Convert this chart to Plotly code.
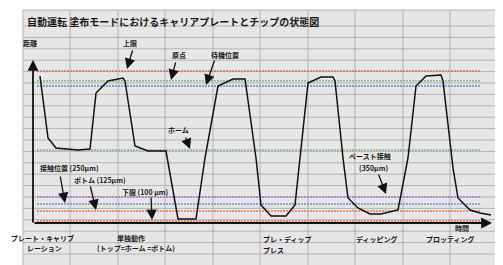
import plotly.graph_objects as go

# ---- data (time, distance in chart units; x-axis at distance 0) ----
curve_t = [7, 15, 23, 45, 57, 63, 75, 90, 92, 102, 115, 133, 145, 163, 172, 185, 200, 212,
           223, 228, 238, 253, 262, 267, 275, 288, 300, 302, 310, 315, 325, 337, 348, 365,
           375, 383, 393, 408, 410, 420, 425, 437, 447, 458]
curve_d = [147, 85, 75, 73, 74, 130, 142, 145, 142, 77, 72, 72, 4, 4, 65, 137, 144, 144,
           65, 18, 7, 7, 18, 65, 140, 146, 146, 142, 65, 25, 15, 9, 9, 13,
           65, 137, 147, 148, 142, 55, 25, 13, 10, 8]

level_names = ["上限", "原点", "待機位置", "ホーム", "ペースト接触", "接触位置", "ボトム", "下限"]
level_values = [152, 142, 137, 73, 26, 19, 12, 2]
level_colors = ["#e0704c", "#86b486", "#7080c8", "#86b486", "#a878b8", "#7888c8", "#e0805c", "#e0704c"]
level_start, level_end = 4, 447

title_text = "自動運転 塗布モードにおけるキャリアプレートとチップの状態図"
phase_labels = ["プレート・キャリブ", "レーション", "単独動作", "(トップ=ホーム =ボトム)",
                "プレ・ディップ", "プレス", "ディッピング", "プロッティング"]

FONT = "Noto Sans CJK JP"
fig = go.Figure()

for name, v, c in zip(level_names, level_values, level_colors):
    fig.add_trace(go.Scatter(x=[level_start, level_end], y=[v, v], mode="lines",
                             line=dict(color=c, width=1.6, dash="2px,1px"),
                             name=name, showlegend=False, hoverinfo="skip"))

fig.add_trace(go.Scatter(x=curve_t, y=curve_d, mode="lines",
                         line=dict(color="#111111", width=1.5), showlegend=False))

ann = []
def txt(s, x, y, size=7, anchor="center"):
    ann.append(dict(text=s, x=x, y=y, xref="x", yref="y", showarrow=False,
                    xanchor=anchor, yanchor="middle",
                    font=dict(family=FONT, size=size, color="#1a1a1a")))

def arrow(x0, y0, x1, y1, w=1.3, size=1.6):
    ann.append(dict(text="", x=x1, y=y1, ax=x0, ay=y0, xref="x", yref="y",
                    axref="x", ayref="y", showarrow=True, arrowhead=2,
                    arrowsize=size, arrowwidth=w, arrowcolor="#111111"))

# axes with arrows
arrow(0, -1, 0, 163, w=1.8, size=1.2)
arrow(0, 0, 459, 0, w=1.8, size=1.2)

txt("<b>" + title_text + "</b>", -8, 202, size=10, anchor="left")
txt("<b>距離</b>", -3, 180)
txt("<b>上限</b>", 97, 180)
txt("<b>原点</b>", 146, 168)
txt("<b>待機位置</b>", 192, 168)
txt("<b>ホーム</b>", 145, 93)
txt("<b>接触位置 (250μm)</b>", 36, 55)
txt("<b>ボトム (125μm)</b>", 67, 43)
txt("<b>下限 (100 μm)</b>", 112, 31)
txt("<b>ペースト接触</b>", 337, 67)
txt("<b>(350μm)</b>", 340, 55)
txt("<b>時間</b>", 429, -5)

txt("<b>" + phase_labels[0] + "</b>", 9, -15)
txt("<b>" + phase_labels[1] + "</b>", 11, -25)
txt("<b>" + phase_labels[2] + "</b>", 98, -15)
txt("<b>" + phase_labels[3] + "</b>", 103, -25)
txt("<b>" + phase_labels[4] + "</b>", 228, -16, anchor="left")
txt("<b>" + phase_labels[5] + "</b>", 228, -27, anchor="left")
txt("<b>" + phase_labels[6] + "</b>", 344, -16)
txt("<b>" + phase_labels[7] + "</b>", 417, -16)

arrow(100, 174, 94, 154)
arrow(143, 162, 138, 143)
arrow(182, 164, 173, 138)
arrow(152, 87, 157, 74)
arrow(27, 48, 32, 20)
arrow(57, 38, 63, 13)
arrow(118, 27, 119, 3)
arrow(345, 50, 353, 29)

# spreadsheet cell grid (decoration)
GRID = "#b4b4b4"
grid_x = [37, 85, 132, 180, 227, 275, 322, 370, 417]
grid_y = [197 - 11.4 * i for i in range(21)]
shapes = []
for gx in grid_x:
    shapes.append(dict(type="line", xref="x", yref="paper", x0=gx, x1=gx, y0=0, y1=1,
                       line=dict(color=GRID, width=1), layer="below"))
for gy in grid_y:
    shapes.append(dict(type="line", xref="paper", yref="y", x0=0, x1=1, y0=gy, y1=gy,
                       line=dict(color=GRID, width=1), layer="below"))
shapes.append(dict(type="rect", xref="paper", yref="paper", x0=0, x1=1, y0=0, y1=1,
                   line=dict(color=GRID, width=1), layer="below"))

fig.update_layout(
    width=503, height=265,
    margin=dict(l=15, r=6, t=2, b=7),
    paper_bgcolor="white", plot_bgcolor="#e6e6e6",
    annotations=ann, shapes=shapes,
    xaxis=dict(range=[-10, 472], visible=False, fixedrange=True),
    yaxis=dict(range=[-43, 213], visible=False, fixedrange=True),
)

fig.write_html("out.html")
